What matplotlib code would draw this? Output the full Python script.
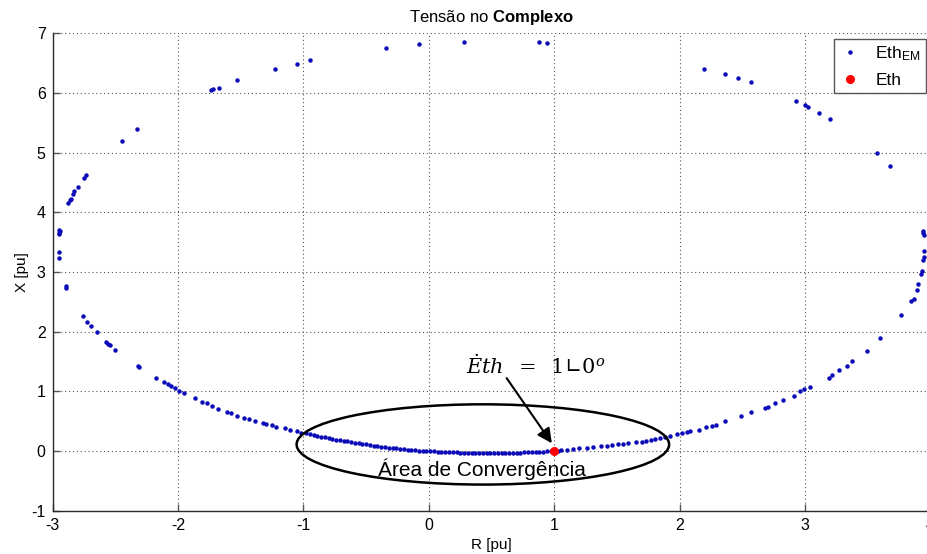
import matplotlib
matplotlib.use("Agg")
import matplotlib.pyplot as plt
from matplotlib.patches import Ellipse

plt.rcParams['font.family'] = ['Liberation Sans', 'DejaVu Sans']
plt.rcParams['mathtext.fontset'] = 'custom'
plt.rcParams['mathtext.rm'] = 'Liberation Sans'
plt.rcParams['mathtext.it'] = 'Liberation Sans:italic'
plt.rcParams['mathtext.bf'] = 'Liberation Sans:bold'
plt.rcParams['axes.unicode_minus'] = False

# Thevenin voltage estimates in the complex plane (R, X) [pu]
r_upper = [-2.95, -2.95, -2.94, -2.95, -2.95, -2.95,
           -2.876, -2.86, -2.857, -2.84, -2.83, -2.80, -2.75, -2.735,
           -2.45, -2.33,
           -1.738, -1.725, -1.677, -1.529, -1.226, -1.053, -0.949,
           -0.345, -0.077, 0.279, 0.880, 0.944,
           2.196, 2.358, 2.464, 2.57, 2.924, 3.0, 3.025, 3.113, 3.20,
           3.57, 3.674]
x_upper = [3.70, 3.66, 3.68, 3.64, 3.33, 3.24,
           4.16, 4.20, 4.22, 4.30, 4.35, 4.42, 4.57, 4.62,
           5.19, 5.40,
           6.05, 6.07, 6.09, 6.21, 6.40, 6.49, 6.55,
           6.76, 6.82, 6.86, 6.85, 6.83,
           6.41, 6.31, 6.25, 6.18, 5.87, 5.79, 5.76, 5.66, 5.57,
           4.99, 4.78]

r_right = [3.94, 3.945, 3.94, 3.95, 3.945, 3.94, 3.93, 3.925,
           3.90, 3.89, 3.87, 3.84, 3.76, 3.60, 3.49, 3.37, 3.33, 3.27,
           3.21, 3.19, 3.04, 2.99, 2.96, 2.91, 2.82, 2.76, 2.70, 2.68,
           2.57, 2.49, 2.36, 2.29, 2.255, 2.21, 2.156, 2.08, 2.06, 2.015,
           1.975, 1.92, 1.88, 1.84, 1.80, 1.77, 1.73, 1.70, 1.65, 1.59,
           1.55, 1.51, 1.46, 1.42, 1.37, 1.31, 1.26, 1.20, 1.15, 1.10, 1.05]
x_right = [3.66, 3.62, 3.69, 3.35, 3.25, 3.20, 3.02, 2.97,
           2.80, 2.70, 2.55, 2.51, 2.28, 1.89, 1.68, 1.50, 1.43, 1.36,
           1.27, 1.23, 1.08, 1.04, 1.00, 0.93, 0.85, 0.80, 0.74, 0.72,
           0.65, 0.59, 0.50, 0.44, 0.42, 0.40, 0.36, 0.34, 0.32, 0.30,
           0.28, 0.25, 0.23, 0.21, 0.195, 0.18, 0.17, 0.157, 0.145, 0.134,
           0.12, 0.11, 0.10, 0.09, 0.08, 0.067, 0.055, 0.045, 0.033, 0.022, 0.01]

r_left = [-2.897, -2.89, -2.757, -2.725, -2.698, -2.65, -2.576, -2.557,
          -2.54, -2.504, -2.32, -2.31, -2.177, -2.113, -2.08, -2.06,
          -2.026, -1.99, -1.954, -1.866, -1.808, -1.77, -1.728, -1.68,
          -1.613, -1.575, -1.533, -1.475, -1.433, -1.388, -1.32, -1.30,
          -1.254, -1.22, -1.148, -1.11, -1.055, -1.02]
x_left = [2.77, 2.73, 2.27, 2.17, 2.10, 1.99, 1.83, 1.80,
          1.78, 1.70, 1.42, 1.40, 1.23, 1.16, 1.13, 1.09,
          1.05, 1.01, 0.98, 0.885, 0.82, 0.80, 0.75, 0.70,
          0.66, 0.63, 0.59, 0.56, 0.53, 0.50, 0.47, 0.45,
          0.43, 0.41, 0.38, 0.36, 0.33, 0.31]

r_conv = [-0.98, -0.95, -0.92, -0.89, -0.86, -0.83, -0.80, -0.77, -0.74,
          -0.71, -0.68, -0.65, -0.62, -0.59, -0.56, -0.53, -0.50, -0.47,
          -0.44, -0.41, -0.38, -0.35, -0.32, -0.29, -0.26, -0.23, -0.20,
          -0.17, -0.14, -0.11, -0.08, -0.05, -0.02, 0.01, 0.04, 0.07, 0.10,
          0.13, 0.16, 0.19, 0.22, 0.25, 0.28, 0.31, 0.34, 0.37, 0.40, 0.43,
          0.46, 0.49, 0.52, 0.55, 0.58, 0.61, 0.64, 0.67, 0.70, 0.73, 0.76,
          0.79, 0.82, 0.85, 0.88, 0.91, 0.94, 0.97, 1.00, 1.03]
x_conv = [0.30, 0.28, 0.27, 0.255, 0.24, 0.23, 0.215, 0.20, 0.19,
          0.18, 0.17, 0.16, 0.15, 0.14, 0.13, 0.12, 0.11, 0.10,
          0.09, 0.082, 0.074, 0.066, 0.058, 0.05, 0.043, 0.036, 0.03,
          0.024, 0.018, 0.013, 0.008, 0.004, 0.0, -0.004, -0.008, -0.011, -0.014,
          -0.017, -0.02, -0.022, -0.024, -0.026, -0.028, -0.029, -0.03, -0.031, -0.032, -0.032,
          -0.033, -0.033, -0.033, -0.032, -0.032, -0.031, -0.03, -0.029, -0.028, -0.026, -0.024,
          -0.022, -0.02, -0.017, -0.014, -0.011, -0.008, -0.004, 0.0, 0.005]

R_em = r_upper + r_right + r_left + r_conv
X_em = x_upper + x_right + x_left + x_conv

# Reference Thevenin voltage 1∠0°
R_ref = [1.0]
X_ref = [0.0]

xticks = [-3, -2, -1, 0, 1, 2, 3, 4]
yticks = [-1, 0, 1, 2, 3, 4, 5, 6, 7]

fig = plt.figure(figsize=(9.27, 5.54), dpi=100)
ax = fig.add_axes([0.0568, 0.0782, 0.9471, 0.8617])

ax.plot(R_em, X_em, linestyle='none', marker='o', ms=3.2, mew=0,
        color='#0a0ab8', label=r'Eth$_{\mathrm{EM}}$', zorder=3)
ax.plot(R_ref, X_ref, linestyle='none', marker='o', ms=6.5, mew=0,
        color='#ff0000', label='Eth', zorder=4)

ax.set_xlim(-3, 4)
ax.set_ylim(-1, 7)
ax.set_xticks(xticks)
ax.set_yticks(yticks)
ax.grid(True, linestyle=(0, (1, 2.5)), color='#555555', linewidth=0.8)
ax.set_axisbelow(True)
for side in ('top', 'right'):
    ax.spines[side].set_visible(False)
for side in ('left', 'bottom'):
    ax.spines[side].set_color('#2b2b2b')
    ax.spines[side].set_linewidth(1.0)
ax.tick_params(direction='in', length=5, width=1, color='#555555',
               labelsize=11.5, pad=5)

ax.set_xlabel('R [pu]', fontsize=11, labelpad=4)
ax.set_ylabel('X [pu]', fontsize=11, labelpad=2)
ax.set_title(r'Tensão no $\mathbf{Complexo}$', fontsize=12, pad=8)

# Convergence region
ax.add_patch(Ellipse((0.43, 0.11), 2.97, 1.345, fill=False,
                     edgecolor='black', linewidth=1.8, zorder=5))
ax.text(0.423, -0.30, 'Área de Convergência', fontsize=15,
        ha='center', va='center', zorder=6)

ax.text(0.85, 1.43, r'$\dot{E}th\;\;=\;\;1∟0^{o}$', fontsize=15,
        math_fontfamily='dejavuserif', ha='center', va='center', zorder=6)
ax.annotate('', xy=(0.98, 0.13), xytext=(0.62, 1.22),
            arrowprops=dict(arrowstyle='-|>', color='black', lw=1.5,
                            mutation_scale=22, shrinkA=0, shrinkB=0),
            zorder=6)

leg = ax.legend(loc='upper right', bbox_to_anchor=(926 / 927, 1 - 39 / 554),
                bbox_transform=fig.transFigure, borderaxespad=0,
                fontsize=12.5, fancybox=False, framealpha=1,
                handlelength=1.3, handletextpad=0.8, borderpad=0.3,
                labelspacing=0.55)
leg.get_frame().set_edgecolor('#555555')
leg.get_frame().set_linewidth(1.0)

fig.savefig('out.png', dpi=100)
